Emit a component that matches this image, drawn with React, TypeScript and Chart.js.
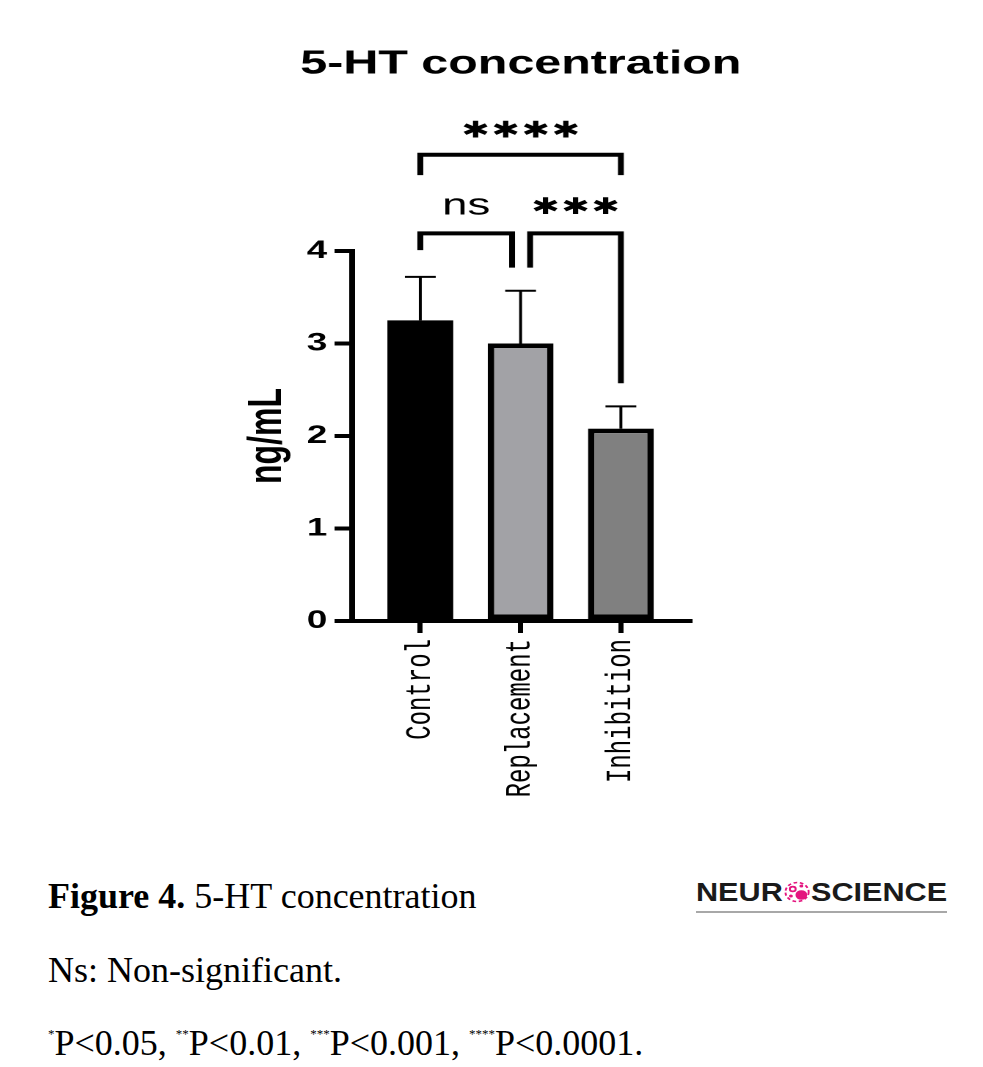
import React, { useEffect, useRef } from "react";
import { Chart, registerables } from "chart.js";

Chart.register(...registerables);

// ---- data ----
const categories = ["Control", "Replacement", "Inhibition"];
const means = [3.25, 3.0, 2.08];
const upperErr = [3.72, 3.57, 2.32];
const barFills = ["#000000", "#a2a2a6", "#808080"];
const barBorders = [0, 4.5, 4.5];
const yTicks = [0, 1, 2, 3, 4];
const chartTitle = "5-HT concentration";

// significance brackets (category position / y value)
const bracketStart = [0, 0, 1.095];
const bracketEnd = [2, 0.915, 2];
const bracketLevel = [5.04, 4.19, 4.19];
const bracketLeftEnd = [4.82, 4.01, 3.82];
const bracketRightEnd = [4.82, 3.82, 2.57];
const bracketLabel = ["****", "ns", "***"];
const bracketLabelLevel = [5.29, 4.48, 4.465];

const CANVAS_W = 670;
const CANVAS_H = 830;
const STRETCH = 983 / CANVAS_W;

const titlePlugin = {
  id: "stretchedTitle",
  afterDraw(chart: any) {
    const ctx = chart.ctx;
    const a = chart.chartArea;
    ctx.save();
    ctx.fillStyle = "#000";
    ctx.font = "bold 33px 'Liberation Sans'";
    ctx.textAlign = "center";
    ctx.textBaseline = "alphabetic";
    ctx.fillText(chartTitle, (a.left + a.right) / 2, 73.5);
    ctx.restore();
  },
};

const errorBarPlugin = {
  id: "errorBars",
  afterDatasetsDraw(chart: any) {
    const ctx = chart.ctx;
    const y = chart.scales.y;
    const meta = chart.getDatasetMeta(0);
    ctx.save();
    ctx.strokeStyle = "#000";
    ctx.lineWidth = 2;
    meta.data.forEach((el: any, i: number) => {
      const top = y.getPixelForValue(upperErr[i]);
      ctx.beginPath();
      ctx.moveTo(el.x, el.y);
      ctx.lineTo(el.x, top);
      ctx.moveTo(el.x - 10.5, top);
      ctx.lineTo(el.x + 10.5, top);
      ctx.stroke();
    });
    ctx.restore();
  },
};

const bracketPlugin = {
  id: "brackets",
  afterDraw(chart: any) {
    const ctx = chart.ctx;
    const xs = chart.scales.x;
    const ys = chart.scales.y;
    ctx.save();
    ctx.strokeStyle = "#000";
    ctx.lineWidth = 4;
    ctx.lineCap = "butt";
    ctx.lineJoin = "miter";
    bracketLabel.forEach((label, i) => {
      const x1 = xs.getPixelForValue(bracketStart[i]);
      const x2 = xs.getPixelForValue(bracketEnd[i]);
      const yl = ys.getPixelForValue(bracketLevel[i]);
      const ya = ys.getPixelForValue(bracketLeftEnd[i]);
      const yb = ys.getPixelForValue(bracketRightEnd[i]);
      ctx.beginPath();
      ctx.moveTo(x1, ya);
      ctx.lineTo(x1, yl);
      ctx.lineTo(x2, yl);
      ctx.lineTo(x2, yb);
      ctx.stroke();
      const isStars = label.indexOf("*") >= 0;
      ctx.fillStyle = "#000";
      ctx.textAlign = "center";
      ctx.textBaseline = "middle";
      const ly = ys.getPixelForValue(bracketLabelLevel[i]);
      const cx = (x1 + x2) / 2;
      if (isStars) {
        ctx.font = "bold 23px 'DejaVu Sans'";
        const step = 20.5;
        const n = label.length;
        for (let k = 0; k < n; k++) {
          ctx.fillText("\u2731", cx + (k - (n - 1) / 2) * step, ly);
        }
      } else {
        ctx.font = "31px 'Liberation Sans'";
        ctx.textBaseline = "alphabetic";
        ctx.fillText(label, cx, ly + 8);
      }
    });
    ctx.restore();
  },
};

function BarChart() {
  const ref = useRef<HTMLCanvasElement>(null);
  useEffect(() => {
    if (!ref.current) return;
    const chart = new Chart(ref.current, {
      type: "bar",
      data: {
        datasets: [
          {
            data: means.map((v, i) => ({ x: i, y: v })) as any,
            backgroundColor: barFills,
            borderColor: "#000",
            borderWidth: barBorders,
            borderSkipped: false,
            barPercentage: 0.657,
            categoryPercentage: 1,
          },
        ],
      },
      options: {
        responsive: false,
        animation: false,
        devicePixelRatio: 2,
        layout: { padding: { left: 163.5, right: 200, top: 251, bottom: 9 } },
        plugins: {
          legend: { display: false },
          tooltip: { enabled: false },
          title: { display: false },
        },
        scales: {
          x: {
            type: "linear",
            offset: false,
            min: -0.68,
            max: 2.685,
            afterBuildTicks: (s: any) => {
              s.ticks = categories.map((_, i) => ({ value: i }));
            },
            afterFit: (s: any) => {
              s.height = 200;
            },
            ticks: {
              callback: (v: any) => categories[v],
              maxRotation: 90,
              minRotation: 90,
              autoSkip: false,
              color: "#000",
              padding: 6,
              font: { family: "Liberation Mono", size: 24 },
            },
            grid: {
              offset: false,
              drawOnChartArea: false,
              drawTicks: true,
              tickLength: 12,
              lineWidth: 3.5,
              color: "#000",
            },
            border: { display: true, width: 4, color: "#000" },
          },
          y: {
            min: 0,
            max: 4,
            afterBuildTicks: (s: any) => {
              s.ticks = yTicks.map((v) => ({ value: v }));
            },
            afterFit: (s: any) => {
              s.width = 76.5;
            },
            ticks: {
              color: "#000",
              padding: 5,
              font: { family: "Liberation Sans", size: 25, weight: "bold" },
            },
            grid: {
              drawOnChartArea: false,
              drawTicks: true,
              tickLength: 12,
              lineWidth: 4,
              color: "#000",
            },
            border: { display: true, width: 4, color: "#000" },
            title: {
              display: true,
              text: "ng/mL",
              color: "#000",
              padding: 0,
              font: { family: "Liberation Sans", size: 32, weight: "bold" },
            },
          },
        },
      } as any,
      plugins: [errorBarPlugin, bracketPlugin, titlePlugin],
    });
    return () => chart.destroy();
  }, []);
  return (
    <div
      style={{
        position: "absolute",
        left: 0,
        top: 0,
        width: CANVAS_W,
        height: CANVAS_H,
        transform: `scaleX(${STRETCH})`,
        transformOrigin: "0 0",
      }}
    >
      <canvas
        ref={ref}
        width={CANVAS_W}
        height={CANVAS_H}
        style={{ display: "block", width: CANVAS_W, height: CANVAS_H }}
      />
    </div>
  );
}

const captionFont = "'Liberation Serif', serif";
const lineStyle: React.CSSProperties = {
  position: "absolute",
  left: 48,
  fontFamily: captionFont,
  fontSize: 36,
  lineHeight: "36px",
  color: "#000",
  whiteSpace: "nowrap",
};
const supStyle: React.CSSProperties = {
  fontSize: 13,
  verticalAlign: "top",
  lineHeight: "13px",
  position: "relative",
  top: 2,
};

export default function App() {
  return (
    <div
      style={{
        position: "absolute",
        left: 0,
        top: 0,
        width: 983,
        height: 1067,
        background: "#fff",
        overflow: "hidden",
      }}
    >
      <BarChart />
      <div style={{ ...lineStyle, top: 878 }}>
        <b>Figure 4.</b> 5-HT concentration
      </div>
      <div style={{ ...lineStyle, top: 952 }}>Ns: Non-significant.</div>
      <div style={{ ...lineStyle, top: 1025 }}>
        <span style={supStyle}>*</span>P&lt;0.05,{" "}
        <span style={supStyle}>**</span>P&lt;0.01,{" "}
        <span style={supStyle}>***</span>P&lt;0.001,{" "}
        <span style={supStyle}>****</span>P&lt;0.0001.
      </div>
      <div
        style={{
          position: "absolute",
          left: 696,
          top: 879,
          height: 26,
          transform: "scaleX(1.225)",
          transformOrigin: "0 0",
          fontFamily: "'Liberation Sans', sans-serif",
          fontWeight: "bold",
          fontSize: 25,
          color: "#1a1a1a",
          whiteSpace: "nowrap",
          lineHeight: "25px",
          display: "flex",
          alignItems: "center",
        }}
      >
        <span>NEUR</span>
        <svg width="21" height="24" viewBox="0 0 21 24" style={{ margin: "0 1px" }}>
          <circle cx="10.5" cy="12" r="9.5" fill="none" stroke="#e4157f" strokeWidth="1.6" strokeDasharray="3 2.2" />
          <circle cx="14" cy="15" r="4.8" fill="#e4157f" />
          <circle cx="7" cy="9" r="2.4" fill="none" stroke="#e4157f" strokeWidth="1.6" />
          <circle cx="5.5" cy="16" r="1.6" fill="#e4157f" />
          <circle cx="14" cy="6" r="1.6" fill="#e4157f" />
        </svg>
        <span>SCIENCE</span>
      </div>
      <div
        style={{
          position: "absolute",
          left: 696,
          top: 911,
          width: 251,
          height: 2,
          background: "#a8a8a8",
        }}
      />
    </div>
  );
}
